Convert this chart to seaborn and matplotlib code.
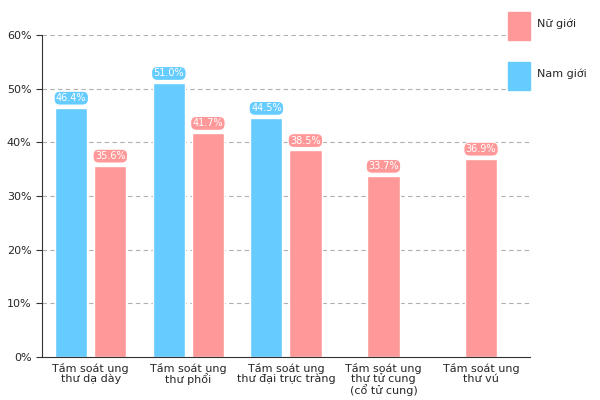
import matplotlib
matplotlib.use("Agg")
import matplotlib.pyplot as plt
import seaborn as sns
import pandas as pd
import numpy as np

categories = ["Tầm soát ung\nthư dạ dày", "Tầm soát ung\nthư phổi", "Tầm soát ung\nthư đại trực tràng",
              "Tầm soát ung\nthư tử cung\n(cổ tử cung)", "Tầm soát ung\nthư vú"]
nam = [46.4, 51.0, 44.5, None, None]
nu = [35.6, 41.7, 38.5, 33.7, 36.9]
colors = {"Nam giới": "#66CCFF", "Nữ giới": "#FF9999"}

sns.set_style("white")
fig = plt.figure(figsize=(6, 4), dpi=100)
ax = fig.add_axes([0.07, 0.1075, 0.813, 0.805])
ax.set_ylim(0, 60)
ax.set_xlim(-0.5, 4.5)
for y in range(10, 61, 10):
    ax.axhline(y, color="#b0b0b0", ls=(0, (4, 3)), lw=0.8, zorder=0)

w = 0.33
gap = 0.07
for i, c in enumerate(categories):
    vals = [(s, v) for s, v in (("Nam giới", nam[i]), ("Nữ giới", nu[i])) if v is not None]
    n = len(vals)
    for j, (s, v) in enumerate(vals):
        off = 0 if n == 1 else (j - 0.5) * (w + gap)
        ax.bar(i + off, v, width=w, color=colors[s], zorder=2)
        ax.annotate(f"{v:.1f}%", (i + off, v + 0.9), ha="center", va="bottom",
                    fontsize=7, color="white", zorder=3,
                    bbox=dict(boxstyle="round,pad=0.2,rounding_size=0.6", fc=colors[s], ec="white", lw=0.8))

ax.set_xticks(range(5))
ax.set_xticklabels(categories, fontsize=8, va="top", linespacing=1.0)
ax.tick_params(axis="x", length=0, pad=4)
ax.set_xticks([0.5, 1.5, 2.5, 3.5], minor=True)
ax.tick_params(axis="x", which="minor", length=6, color="#333333")
ax.set_yticks(range(0, 61, 10))
ax.set_yticklabels([f"{y}%" for y in range(0, 61, 10)], fontsize=8)
ax.tick_params(axis="y", left=True, length=4, color="#333333")
for s in ["top", "right"]:
    ax.spines[s].set_visible(False)
ax.spines["left"].set_color("#333333")
ax.spines["bottom"].set_color("#333333")

for s, y0 in (("Nữ giới", 12), ("Nam giới", 62)):
    fig.patches.append(plt.Rectangle((508 / 600, 1 - (y0 + 28) / 400), 22 / 600, 28 / 400,
                                     transform=fig.transFigure, color=colors[s]))
    fig.text(537 / 600, 1 - (y0 + 12) / 400, s, fontsize=8, va="center", ha="left")

fig.savefig("out.png", dpi=100)
